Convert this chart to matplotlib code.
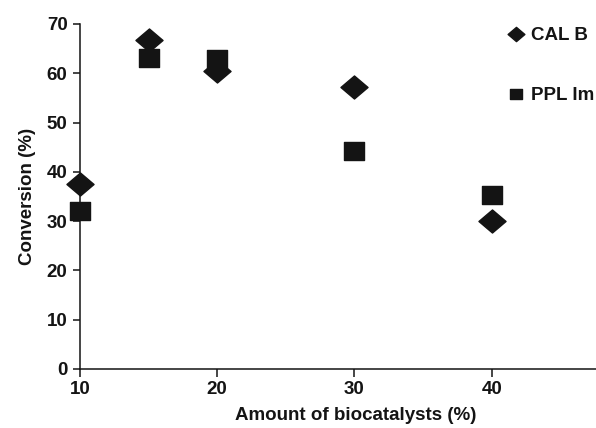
import matplotlib.pyplot as plt
from matplotlib.path import Path

# data
amount = [10, 15, 20, 30, 40]
cal_b = [37.6, 66.7, 60.4, 57.2, 30.0]
ppl_im = [32.0, 63.0, 62.8, 44.2, 35.3]

ink = '#141414'
plt.rcParams['font.family'] = ['Liberation Sans', 'DejaVu Sans']
plt.rcParams['font.weight'] = 'bold'
fs = 13.5

# slightly flattened diamond and square, as in the figure
diamond = Path([(-1, 0), (0, 0.85), (1, 0), (0, -0.85), (-1, 0)],
               [Path.MOVETO, Path.LINETO, Path.LINETO, Path.LINETO, Path.CLOSEPOLY])
square = Path([(-1, -0.82), (1, -0.82), (1, 0.82), (-1, 0.82), (-1, -0.82)],
              [Path.MOVETO, Path.LINETO, Path.LINETO, Path.LINETO, Path.CLOSEPOLY])

fig = plt.figure(figsize=(5.96, 4.28), dpi=100)
# the original plot runs off the right edge of the picture
ax = fig.add_axes([0.134, 0.138, 0.926, 0.806])

ax.plot(amount, cal_b, linestyle='none', marker=diamond, markersize=19.5,
        color=ink, label='CAL B', clip_on=False, zorder=3)
ax.plot(amount, ppl_im, linestyle='none', marker=square, markersize=15,
        color=ink, label='PPL Im', clip_on=False, zorder=3)

ax.set_xlim(10, 50.2)
ax.set_ylim(0, 70)
ax.set_xticks([10, 20, 30, 40])
ax.set_yticks(range(0, 71, 10))

for s in ['top', 'right']:
    ax.spines[s].set_visible(False)
for s in ['left', 'bottom']:
    ax.spines[s].set_linewidth(1.1)
    ax.spines[s].set_color(ink)
ax.tick_params(direction='out', length=5.4, width=1.1, color=ink,
               labelcolor=ink, labelsize=fs, pad=3.5)

ax.set_xlabel('Amount of biocatalysts (%)', fontsize=fs, color=ink,
              fontweight='bold', labelpad=6.5)
ax.set_ylabel('Conversion (%)', fontsize=fs, color=ink,
              fontweight='bold', labelpad=8)

ax.legend(loc='upper left', bbox_to_anchor=(0.774, 0.991), frameon=False,
          markerscale=0.62, handlelength=1.0, handletextpad=0.3,
          labelspacing=2.3, borderpad=0, borderaxespad=0,
          prop={'size': fs, 'weight': 'bold'}, labelcolor=ink)

fig.savefig('out.png', dpi=100)
